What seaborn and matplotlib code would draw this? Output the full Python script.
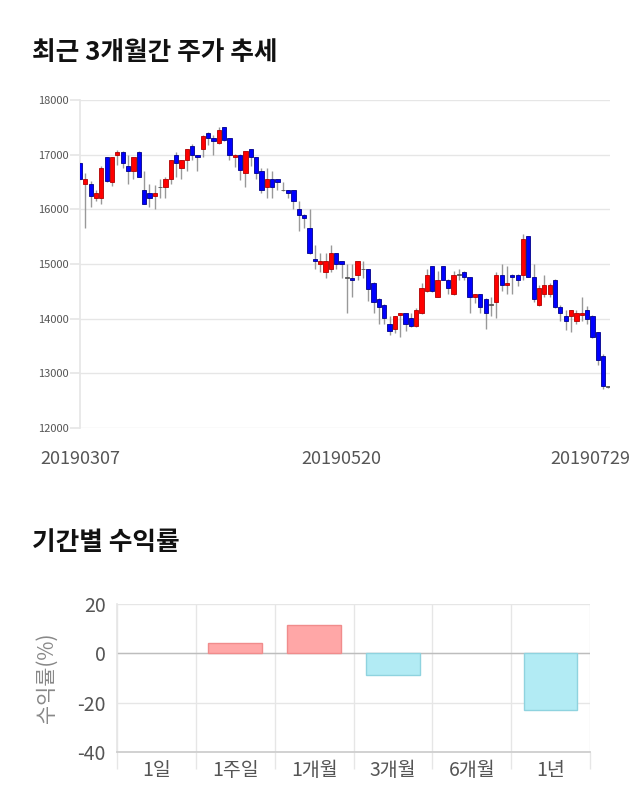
"""Stock candlestick (last 3 months) and period-return bars."""
import numpy as np
import pandas as pd
import matplotlib
matplotlib.use("Agg")
import matplotlib.pyplot as plt
import matplotlib.transforms as mtransforms
import seaborn as sns

# ---- candle data (daily OHLC, 20190307 .. 20190729) ----
OPENS = [16850, 16460, 16460, 16200, 16200, 16950, 16500, 17000, 17050, 16800,
         16700, 17050, 16350, 16300, 16250, 16400, 16400, 16550, 17000, 16750,
         16900, 17150, 17000, 17100, 17400, 17300, 17210, 17500, 17300, 16950,
         17000, 16660, 17100, 16950, 16700, 16400, 16550, 16550, 16350, 16350,
         16350, 16000, 15900, 15650, 15100, 15000, 14850, 14900, 15200, 15050,
         14750, 14750, 14800, 14900, 14900, 14660, 14360, 14250, 13900, 13810,
         14060, 14100, 14010, 13860, 14100, 14500, 14960, 14400, 14960, 14710,
         14450, 14800, 14860, 14760, 14400, 14450, 14360, 14250, 14300, 14800,
         14610, 14800, 14800, 14800, 15510, 14760, 14250, 14450, 14450, 14710,
         14210, 14050, 14050, 13950, 14060, 14150, 14050, 13750, 13310, 12750]
HIGHS = [16870, 16660, 16510, 16360, 16800, 16960, 16960, 17080, 17060, 16990,
         16960, 17060, 16700, 16460, 16450, 16550, 16600, 16900, 17050, 16900,
         17100, 17200, 17000, 17360, 17410, 17360, 17500, 17510, 17310, 17010,
         17010, 17070, 17110, 16960, 16750, 16750, 16700, 16560, 16500, 16360,
         16360, 16150, 15910, 16000, 15350, 15200, 15200, 15350, 15210, 15060,
         15000, 15000, 15060, 15060, 14910, 14670, 14370, 14260, 14050, 14050,
         14110, 14110, 14100, 14200, 14660, 14900, 14970, 14870, 14970, 14720,
         14870, 14900, 14870, 14770, 14460, 14460, 14370, 14400, 14860, 15000,
         14960, 14810, 14810, 15550, 15520, 15000, 14620, 14800, 14650, 14720,
         14250, 14150, 14160, 14160, 14400, 14240, 14060, 13760, 13360, 12760]
LOWS = [16530, 15650, 16050, 16150, 16100, 16500, 16420, 16810, 16750, 16460,
        16550, 16600, 16100, 16050, 16000, 16200, 16200, 16460, 16600, 16550,
        16700, 16900, 16700, 16950, 17170, 17000, 17200, 17250, 16900, 16780,
        16540, 16400, 16800, 16550, 16300, 16200, 16200, 16350, 16330, 16200,
        16000, 15600, 15650, 15180, 14900, 14850, 14750, 14850, 14900, 14750,
        14100, 14400, 14700, 14750, 14330, 14100, 13900, 13900, 13700, 13730,
        13660, 13780, 13850, 13850, 14090, 14490, 14490, 14390, 14700, 14450,
        14440, 14710, 14700, 14100, 14290, 14100, 13810, 14050, 14010, 14500,
        14450, 14450, 14600, 14710, 14760, 14300, 14240, 14400, 14400, 14200,
        13950, 13800, 13750, 13900, 13950, 13900, 13650, 13160, 12710, 12740]
CLOSES = [16550, 16550, 16250, 16300, 16750, 16510, 16950, 17050, 16850, 16700,
          16950, 16600, 16100, 16200, 16300, 16400, 16550, 16900, 16850, 16900,
          17100, 17000, 16950, 17350, 17300, 17250, 17450, 17260, 17000, 17000,
          16720, 17060, 16950, 16660, 16350, 16550, 16400, 16500, 16350, 16300,
          16150, 15900, 15850, 15200, 15050, 15050, 15050, 15200, 15000, 15000,
          14750, 14700, 15050, 14900, 14550, 14310, 14210, 14010, 13770, 14050,
          14100, 13900, 13860, 14160, 14560, 14800, 14500, 14710, 14710, 14560,
          14800, 14800, 14760, 14400, 14450, 14210, 14100, 14250, 14800, 14610,
          14650, 14760, 14710, 15450, 14760, 14360, 14560, 14610, 14610, 14210,
          14100, 13950, 14150, 14100, 14100, 14000, 13660, 13250, 12760, 12750]
DATE_TICKS = [0, 49, 99]
DATE_LABELS = ["20190307", "20190520", "20190729"]
PRICE_TICKS = [12000, 13000, 14000, 15000, 16000, 17000, 18000]

# ---- period returns ----
PERIODS = ["1일", "1주일", "1개월", "3개월", "6개월", "1년"]
RETURNS = [0.0, 4.2, 11.3, -8.6, 0.0, -22.8]

UP, DOWN, FLAT = "#ff0000", "#0000ff", "#555555"
GRID = "#e6e6e6"
TEXT = "#555555"

sns.set_theme(style="white")
plt.rcParams["font.family"] = ["Noto Sans CJK KR", "DejaVu Sans"]
plt.rcParams["axes.unicode_minus"] = False

fig = plt.figure(figsize=(6.4, 8.1), dpi=100)

# ---------- candlestick ----------
ax = fig.add_axes([80 / 640, 1 - 428 / 810, 530 / 640, 328 / 810])
df = pd.DataFrame({"open": OPENS, "high": HIGHS, "low": LOWS, "close": CLOSES})
df["i"] = np.arange(len(df))
df["color"] = np.where(df.close > df.open, UP, np.where(df.close < df.open, DOWN, FLAT))
df["edge"] = np.where(df.close > df.open, "#b00000", np.where(df.close < df.open, "#00008a", FLAT))
df["bottom"] = df[["open", "close"]].min(axis=1)
df["height"] = (df.close - df.open).abs().clip(lower=12)

ax.vlines(df.i, df.low, df.high, color="#999999", lw=1, zorder=2)
ax.bar(df.i, df.height, bottom=df.bottom, width=0.8, color=df.color,
       edgecolor=df.edge, linewidth=0.6, zorder=3)

ax.set_xlim(0, 99.3)
ax.set_ylim(12000, 18000)
ax.set_yticks(PRICE_TICKS)
ax.set_yticklabels([str(t) for t in PRICE_TICKS], fontsize=8, color=TEXT)
ax.set_xticks(DATE_TICKS)
ax.set_xticklabels(DATE_LABELS, fontsize=13, color=TEXT)
ax.tick_params(axis="y", length=7, color=GRID, pad=1, left=True)
ax.tick_params(axis="x", length=0, pad=16)
# last date label is pulled left so it stays inside the canvas
shift = mtransforms.ScaledTranslation(-0.18, 0, fig.dpi_scale_trans)
last = ax.get_xticklabels()[-1]
last.set_transform(last.get_transform() + shift)
ax.yaxis.grid(True, color=GRID, lw=1)
for s in ["top", "right", "bottom"]:
    ax.spines[s].set_visible(False)
ax.spines["left"].set_color(GRID)

fig.text(32 / 640, 1 - 52 / 810, "최근 3개월간 주가 추세", fontsize=18.5,
         fontweight="bold", va="center", ha="left", color="#111111")

# ---------- period returns ----------
ax2 = fig.add_axes([117 / 640, 1 - 752 / 810, 473 / 640, 148 / 810])
rdf = pd.DataFrame({"period": PERIODS, "ret": RETURNS})
bar_colors = ["#ffa7a7" if v > 0 else "#b2ebf4" for v in RETURNS]
sns.barplot(data=rdf, x="period", y="ret", hue="period", palette=bar_colors,
            saturation=1, legend=False, width=0.68, ax=ax2, zorder=3)
for p, v in zip(ax2.patches, RETURNS):
    p.set_edgecolor("#f08c8c" if v > 0 else "#8fd3df")
    p.set_linewidth(1 if v != 0 else 0)

ax2.set_xlim(-0.5, 5.5)
ax2.set_ylim(-40, 20)
ax2.set_yticks([-40, -20, 0, 20])
ax2.set_yticklabels(["-40", "-20", "0", "20"], fontsize=14, color=TEXT)
ax2.tick_params(axis="y", length=0, pad=8)
ax2.set_xticks(range(len(PERIODS)))
ax2.set_xticklabels(PERIODS, fontsize=14, color=TEXT)
ax2.set_xticks(np.arange(-0.5, 6, 1), minor=True)
ax2.tick_params(axis="x", which="major", length=0, pad=6)
ax2.tick_params(axis="x", which="minor", length=12, color=GRID, width=1, bottom=True)
ax2.xaxis.grid(True, which="minor", color=GRID, lw=1)
ax2.yaxis.grid(True, color=GRID, lw=1)
ax2.axhline(0, color="#bdbdbd", lw=1, zorder=2)
ax2.set_xlabel("")
ax2.set_ylabel("수익률(%)", fontsize=15, color="#888888", labelpad=14)
for s in ["top", "right"]:
    ax2.spines[s].set_visible(False)
ax2.spines["left"].set_color(GRID)
ax2.spines["bottom"].set_color("#cccccc")

fig.text(32 / 640, 1 - 543 / 810, "기간별 수익률", fontsize=18.5,
         fontweight="bold", va="center", ha="left", color="#111111")

fig.savefig("out.png", dpi=100)
